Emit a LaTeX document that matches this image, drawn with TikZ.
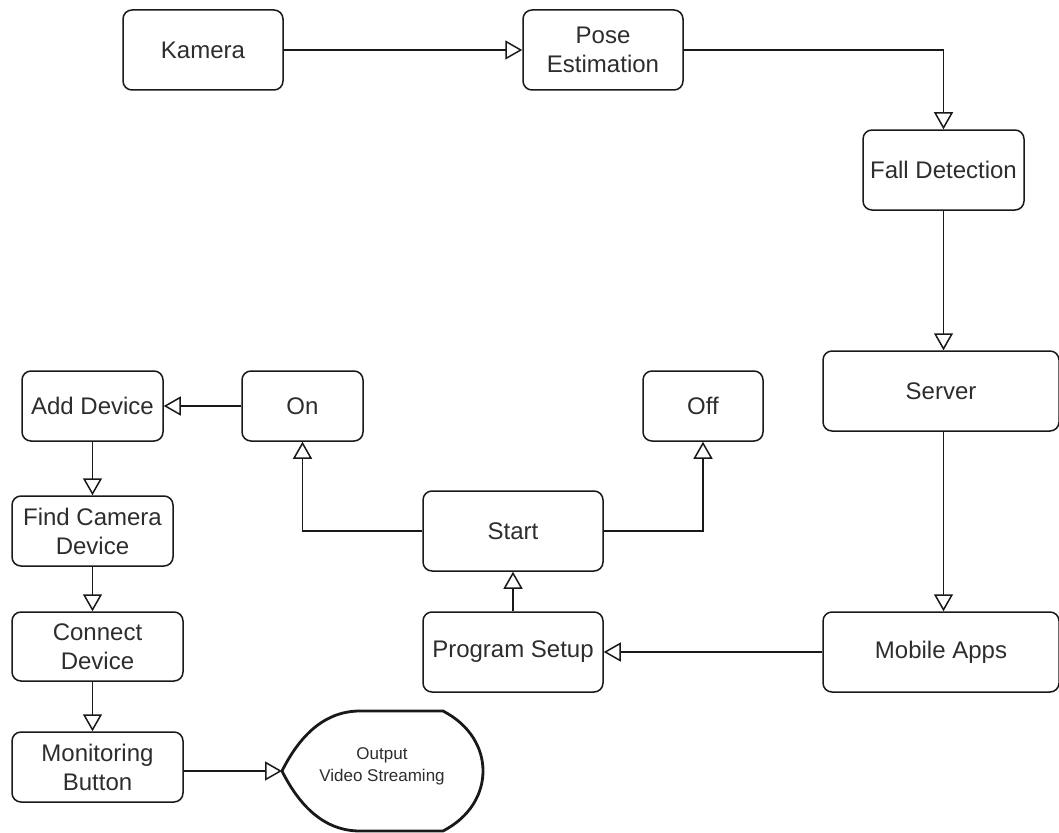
\documentclass[tikz,border=0pt]{standalone}
\usepackage{fontspec}
\setmainfont{Liberation Sans}
\usetikzlibrary{arrows.meta}
\definecolor{linec}{RGB}{25,25,25}
\definecolor{txtc}{RGB}{45,45,45}
\begin{document}
\begin{tikzpicture}[x=1pt,y=-1pt,
  box/.style={draw=linec, line width=1.5pt, rounded corners=9pt, align=center,
    text=txtc, font=\fontsize{24}{29}\selectfont, inner sep=0pt},
  link/.style={draw=linec, line width=1.5pt, -{Triangle[open,length=17pt,width=19pt]}},
  disp/.style={draw=linec, line width=2.8pt, line join=round}]
\useasboundingbox (0,0) rectangle (1059,832);

\node[box, minimum width=160pt, minimum height=80pt] (kam) at (203,50) {Kamera};
\node[box, minimum width=160pt, minimum height=80pt] (pose) at (603,50) {Pose\\Estimation};
\node[box, minimum width=161pt, minimum height=80pt] (fall) at (943.5,170) {Fall Detection};
\node[box, minimum width=236pt, minimum height=80pt] (server) at (941,391) {Server};
\node[box, minimum width=236pt, minimum height=80pt] (mobile) at (941,652) {Mobile Apps};
\node[box, minimum width=180pt, minimum height=80pt] (prog) at (513,652) {Program Setup};
\node[box, minimum width=180pt, minimum height=80pt] (start) at (513,531) {Start};
\node[box, minimum width=120pt, minimum height=70pt] (off) at (703,406) {Off};
\node[box, minimum width=121pt, minimum height=70pt] (on) at (302.5,406) {On};
\node[box, minimum width=141pt, minimum height=70pt] (add) at (92.5,406) {Add Device};
\node[box, minimum width=161pt, minimum height=70pt] (find) at (92.5,531) {Find Camera\\Device};
\node[box, minimum width=171pt, minimum height=69pt] (conn) at (97.5,646.5) {Connect\\Device};
\node[box, minimum width=171pt, minimum height=70pt] (mon) at (97.5,767) {Monitoring\\Button};

% display shape
\draw[disp] (282,771) .. controls (300,735) and (325,711) .. (360,711) -- (443,711)
  .. controls (470,725) and (483,748) .. (483,771)
  .. controls (483,794) and (470,817) .. (443,831) -- (360,831)
  .. controls (325,831) and (300,807) .. (282,771) -- cycle;
\coordinate (outtip) at (282,771);
\node[align=center, text=txtc, font=\fontsize{17}{22}\selectfont, inner sep=0pt] (out) at (382,766) {Output\\Video Streaming};

% connectors
\draw[link] (kam.east) -- (pose.west);
\draw[link] (pose.east) -| (fall.north);
\draw[link] (fall.south) -- (fall.south |- server.north);
\draw[link] (fall.south |- server.south) -- (fall.south |- mobile.north);
\draw[link] (mobile.west) -- (prog.east);
\draw[link] (prog.north) -- (start.south);
\draw[link] (start.west) -| (on.south);
\draw[link] (start.east) -| (off.south);
\draw[link] (on.west) -- (add.east);
\draw[link] (add.south) -- (find.north);
\draw[link] (find.south) -- (find.south |- conn.north);
\draw[link] (find.south |- conn.south) -- (find.south |- mon.north);
\draw[link] (mon.east |- outtip) -- (outtip);
\end{tikzpicture}
\end{document}
